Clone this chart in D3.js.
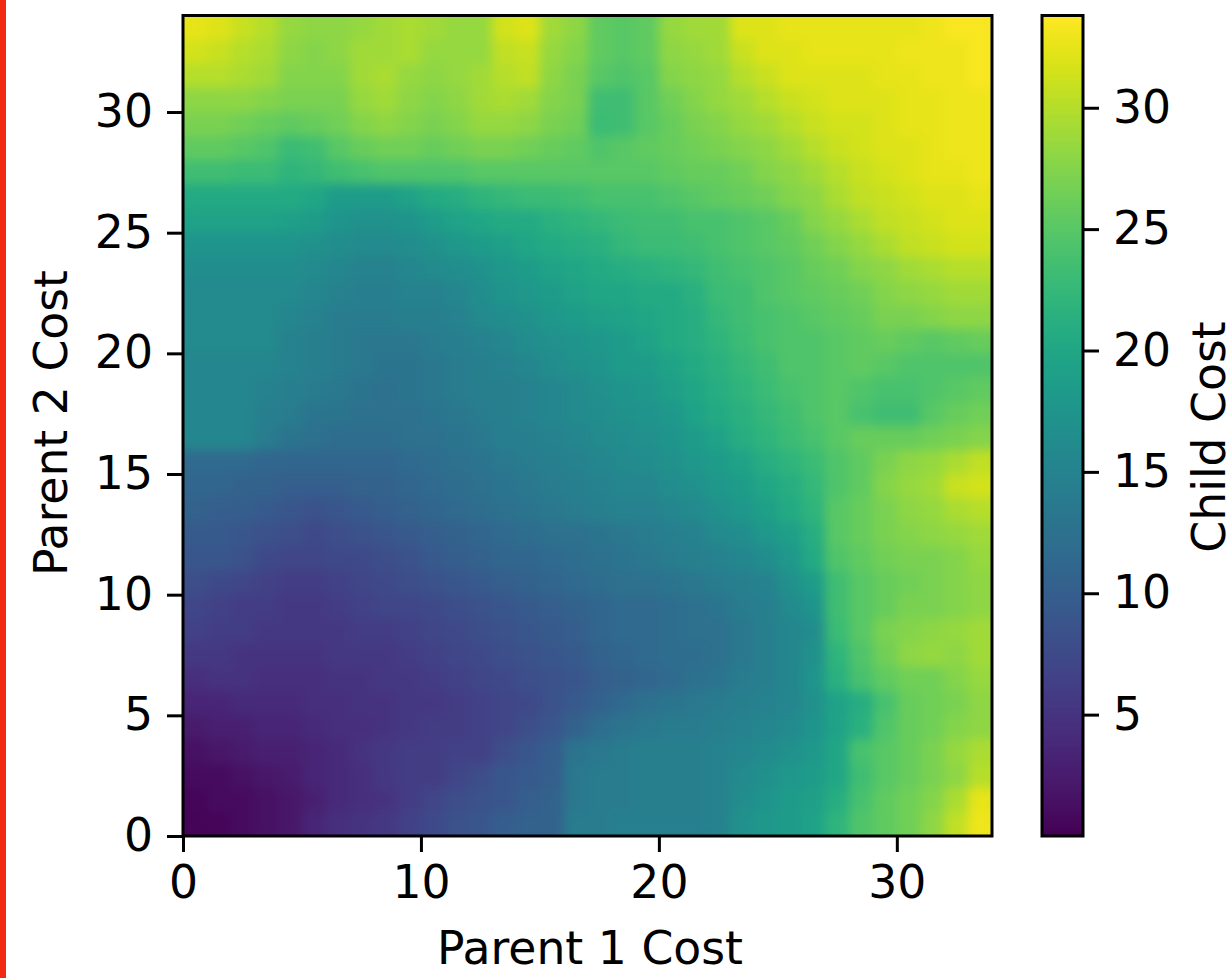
<!DOCTYPE html>
<html><head><meta charset="utf-8">
<style>html,body{margin:0;padding:0;background:#fff}svg{display:block}
text{font-family:"DejaVu Sans";fill:#000}</style>
<script src="https://cdnjs.cloudflare.com/ajax/libs/d3/7.8.5/d3.min.js"></script></head><body>
<svg id="c" width="1230" height="978"></svg>
<script>
const xTicks=[0,10,20,30];
const yTicks=[0,5,10,15,20,25,30];
const barTicks=[5,10,15,20,25,30];
const xTitle="Parent 1 Cost", yTitle="Parent 2 Cost", barTitle="Child Cost";
// rows from parent-2 cost 33 (top) down to 0; columns parent-1 cost 0..33
const childCost=[
[32.5,32,31,30,28.5,28,28,28.5,29,29.5,29,28.5,28.5,31.5,32,29,28,25.5,25,25.5,28.5,29,29,32,32,32.5,32.5,32.5,32.5,32.5,32.5,33,33.5,33.5],
[31.5,31,30,29.5,28,27.5,28,29,29,29.5,28.5,28.5,28.5,30.5,31,28.5,27.5,25.5,25,25.5,28,28.5,29,31,32,32,32.5,32.5,32.5,32.5,33,33,33,33.5],
[30,30,29.5,29,27.5,27.5,27.5,29,29.5,28.5,28,28.5,29,30,30.5,28,27,25,24.5,25,27.5,28,28.5,30,31,32,32,32,32,32.5,32.5,33,33,33.5],
[28,28,28,27.5,27,27,27,28.5,29,28,27.5,28,29,29.5,29,27.5,27,23.5,23.5,25,26.5,27.5,28.5,29,30,31,31.5,32,32,32,32.5,32.5,33,33],
[27,27,26.5,26,25.5,26,26.5,27.5,28,27.5,27,27.5,28.5,28.5,28,27,26.5,23,23.5,25,26,27,27.5,28.5,29,30,31,31.5,31.5,32,32.5,32.5,33,33],
[25.5,25.5,25,24.5,23,23.5,25,26,26.5,26.5,26,26.5,27,27,26.5,26,25.5,24.5,25,25.5,26,26.5,27,27.5,28,29,30,31,31.5,32,32,32.5,33,33],
[23.5,23.5,23,23,22,22.5,23.5,24,24.5,24.5,24.5,24.5,25,25,25,25,25,25,25,25,25.5,26,26,26.5,27.5,28,29,30,31,31.5,32,32.5,32.5,33],
[20.5,20.5,20.5,20.5,20.5,20,18.5,18.5,18.5,19.5,20.5,21,22,22.5,23,23,23.5,24,24,24,24.5,25,25.5,26,26.5,27.5,28,29.5,30.5,31,31.5,32,32,32.5],
[19.5,19.5,19.5,19.5,19,18.5,17.5,17,17,17.5,18.5,19.5,20,20.5,20.5,21.5,22,22.5,23,23.5,23.5,24,24,24.5,25,26,27.5,28.5,29.5,30.5,31,31.5,32,32],
[17.5,17.5,17.5,17.5,17.5,17,16.5,16,16,16.5,17,18,18.5,19,20,20.5,21,21.5,22.5,23,23,23.5,24,24.5,25,25.5,26.5,27.5,28.5,29.5,30.5,31,31.5,31.5],
[16.5,16.5,16.5,16.5,16.5,16,15.5,15,15,15.5,16,16.5,17,18,18.5,19.5,20,20.5,21,21.5,22,22.5,23.5,24,24.5,25,26,26.5,27.5,28,29,29.5,30,30],
[16,16,16,16,16,15.5,15,14.5,14.5,15,15,15.5,16.5,17.5,18,18.5,19.5,20,20,20.5,20.5,21.5,23,23.5,24.5,25,25.5,26,26.5,27.5,28,28.5,29,29],
[16,16,16,16,15.5,15,14,14,14,14.5,14.5,15,16,16.5,17,18,18.5,19,19.5,20,20.5,21,22.5,23.5,24,24.5,25,25.5,26,27,27,27.5,28,28],
[16,16,16,16,15,14.5,14,13.5,13.5,13.5,14,14.5,15,15.5,16.5,17,17.5,18,18.5,19.5,20.5,21,22,23,24,24.5,24.5,25,25.5,26,25.5,25,25.5,26],
[15.5,15.5,15.5,15.5,15,14.5,14,13.5,13,13,13.5,14,14.5,15,15.5,16.5,17,17.5,18.5,18.5,19.5,20.5,21.5,22.5,23.5,24.5,24.5,25,25.5,25,24.5,24.5,24.5,24.5],
[15.5,15.5,15.5,15,14.5,14,13.5,13,12.5,13,13.5,14,14.5,14.5,15,15.5,16,17,17.5,18,19,20,21,22,23,24,24.5,25,24.5,24,24,24.5,25,25.5],
[15.5,15.5,15.5,14.5,14,13,13,12.5,12.5,12.5,13,13.5,14,14.5,15,15.5,16,16.5,17,17.5,18,19.5,20.5,21.5,22.5,23.5,24.5,25,24,23.5,23.5,25,26,26.5],
[15.5,15.5,15.5,14,13,12.5,12,12,12,12.5,12.5,13,13.5,14.5,14.5,15,15.5,16,16.5,17,17.5,18.5,19.5,21,22,23,24,25,26,26,26,26.5,27,27.5],
[11.5,11.5,11.5,11,11,11,11,11,11,11.5,12,12.5,13,13.5,14,14.5,15,15.5,16,16.5,17,18,18.5,19.5,21,22,23,24.5,25.5,27,28,28.5,29.5,30.5],
[11,11,10.5,10.5,10,10,10,10.5,10.5,11,11.5,12,12.5,13,13.5,14,14.5,15,15.5,15.5,16.5,17,18,18.5,20,21,22.5,24.5,25.5,27.5,28.5,29,31,31.5],
[10.5,10,10,9.5,9,8.5,9,9.5,10,10.5,11,11.5,12,12.5,13,13.5,14,14.5,15,15,15.5,16,17,18,19,20.5,22,25,26,27,28,28.5,29.5,30],
[9.5,9.5,9,8.5,8,7.5,8,8.5,9,9.5,10,10.5,11,11.5,12,12.5,12.5,13,13.5,14,14.5,15,16,16.5,18,19,21,25,26,27,27.5,28,28.5,29],
[9,9,8.5,7.5,7,7,7.5,7.5,8,8.5,9.5,10,10.5,11,11,11.5,12,12.5,13,13.5,14,14.5,15,15.5,16.5,18,20.5,24.5,25.5,26.5,27,27,27.5,28.5],
[8,7.5,7,6.5,6,6,6.5,7,7.5,8,8.5,9,9.5,10,10.5,11,11.5,12,12.5,12.5,13,13.5,14,14.5,15,17,18.5,23.5,25,26,26.5,27,27.5,28],
[7,6.5,6,6,5.5,5.5,6,6.5,7,7,7.5,8,8.5,9,9.5,10,10.5,11,11.5,11.5,12,12.5,13,14,14.5,16,17.5,23.5,25,26,27,27,27.5,28],
[6.5,6,6,5.5,5.5,5.5,5.5,6,6,6.5,7,7.5,8,8.5,9,9.5,10,11,11.5,11.5,12,12.5,12.5,13.5,14.5,15.5,16.5,23,25,27,27.5,28,28.5,29],
[5.5,5.5,5,5,5,5,5.5,5.5,5.5,6,6.5,7,7.5,8,8.5,9,9.5,10.5,11,11.5,12,12,12.5,13.5,14.5,15.5,17,22,24.5,26.5,28,28.5,28,29],
[4.5,5,5,4.5,4.5,4.5,5,5,5.5,5.5,6,6.5,7,7.5,8,8.5,9,10,10.5,11,11.5,12.5,13,14,14.5,15.5,17.5,21.5,24,25.5,26.5,26.5,27.5,28.5],
[3.5,3.5,4,4,4,4.5,4.5,5,5,5.5,5.5,6,6.5,7,7.5,8.5,9.5,10.5,11.5,12.5,13,13.5,14,14.5,15,15.5,17,19.5,21,24,26,26.5,27,28],
[2.5,3,3,3.5,3.5,4,4.5,4.5,5,5.5,6,6,6.5,7,8,9,10.5,12,13,13.5,14,14,14.5,15,15.5,16,17.5,19.5,21.5,24.5,26,26.5,27.5,28],
[1.5,2,2.5,3,3,3.5,4,5,5.5,6,6,6.5,6.5,8,9,10,13,13.5,14,14.5,14.5,14.5,15,15.5,16,17,18,20,24,25,26,27,28.5,29.5],
[1,1,1.5,2,2.5,3.5,4,4.5,5.5,6,6,7,8,9,9.5,10,13.5,14,14,14.5,14.5,14.5,15,16,17,18,18.5,20,23.5,25,26,27,28,30],
[0.5,1,1,1.5,2,3,4,4.5,5,6,7,8,8.5,9,10,10.5,13.5,14,14,14.5,14.5,14.5,15,16.5,17.5,18.5,19,21,24,25.5,26.5,27.5,29.5,32.5],
[0.3,0.5,1,1.5,2,3.5,4.5,5,5.5,6.5,7.5,8.5,9,10,10.5,10.5,14,14,14.5,14.5,14.5,14.5,15,17,18,18.5,19.5,22,24.5,25.5,26.5,28,30.5,33]
];
const costMax=34, vMin=0, vMax=33.8;
const svg=d3.select("#c");
const x=d3.scaleLinear().domain([0,costMax]).range([183,992]);
const y=d3.scaleLinear().domain([0,costMax]).range([836,15.5]);
const color=d3.scaleSequential(d3.interpolateViridis).domain([vMin,vMax]);
const barY=d3.scaleLinear().domain([vMin,vMax]).range([836,15.5]);

svg.append("rect").attr("x",0).attr("y",0).attr("width",6).attr("height",978).attr("fill","#f22a14");

const defs=svg.append("defs");
const clip=defs.append("clipPath").attr("id","plot");
clip.append("rect").attr("x",x(0)).attr("y",y(costMax)).attr("width",x(costMax)-x(0)).attr("height",y(0)-y(costMax));
const f=defs.append("filter").attr("id","soft").attr("filterUnits","userSpaceOnUse")
 .attr("x",150).attr("y",0).attr("width",880).attr("height",870).attr("color-interpolation-filters","sRGB");
f.append("feGaussianBlur").attr("stdDeviation",5.5);
f.append("feComponentTransfer").append("feFuncA").attr("type","linear").attr("slope",1000);

const cells=childCost.flatMap((row,i)=>row.map((v,j)=>({v,c:j,r:childCost.length-1-i})));
const g=svg.append("g").attr("clip-path","url(#plot)").append("g").attr("filter","url(#soft)").attr("shape-rendering","crispEdges");
g.selectAll("rect").data(cells).join("rect")
 .attr("x",d=>x(d.c)).attr("y",d=>y(d.r+1))
 .attr("width",d=>x(d.c+1)-x(d.c)+.5).attr("height",d=>y(d.r)-y(d.r+1)+.5)
 .attr("fill",d=>color(d.v));

// colour bar
const steps=d3.range(256).map(i=>vMin+(vMax-vMin)*i/256);
const stepH=(vMax-vMin)/256;
svg.append("g").attr("shape-rendering","crispEdges").selectAll("rect").data(steps).join("rect")
 .attr("x",1042).attr("width",41).attr("y",d=>barY(d+stepH)).attr("height",d=>barY(d)-barY(d+stepH)+.6)
 .attr("fill",d=>color(d+stepH/2));

function style(a){
 a.select(".domain").remove();
 a.selectAll("line").attr("stroke","#000").attr("stroke-width",3);
 a.selectAll("text").style("font-size","45.7px");
}
svg.append("g").attr("transform","translate(0,836)")
 .call(d3.axisBottom(x).tickValues(xTicks).tickSize(16).tickPadding(14).tickFormat(d3.format("d"))).call(style);
svg.append("g").attr("transform","translate(183,0)")
 .call(d3.axisLeft(y).tickValues(yTicks).tickSize(16).tickPadding(14).tickFormat(d3.format("d"))).call(style);
svg.append("g").attr("transform","translate(1083,0)")
 .call(d3.axisRight(barY).tickValues(barTicks).tickSize(16).tickPadding(14).tickFormat(d3.format("d"))).call(style);

// frames
[[x(0),y(costMax),x(costMax)-x(0),y(0)-y(costMax)],[1042,15.5,41,820.5]].forEach(b=>{
 svg.append("rect").attr("x",b[0]).attr("y",b[1]).attr("width",b[2]).attr("height",b[3])
  .attr("fill","none").attr("stroke","#000").attr("stroke-width",3);
});
const T=(t,px,py,rot)=>svg.append("text").text(t).attr("text-anchor","middle").style("font-size","45.7px")
 .attr("transform",`translate(${px},${py}) rotate(${rot})`);
T(xTitle,590,964,0);
T(yTitle,67,423,-90);
T(barTitle,1225,437,-90);
</script></body></html>
